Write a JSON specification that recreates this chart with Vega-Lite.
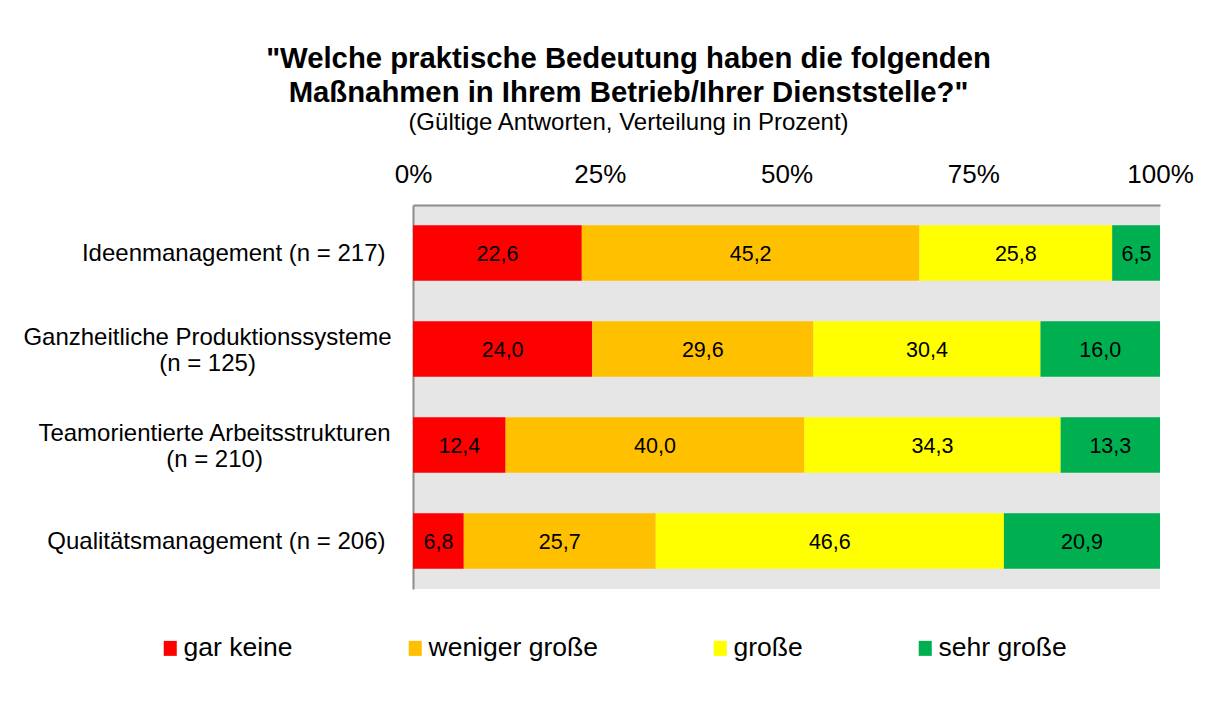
{
  "$schema": "https://vega.github.io/schema/vega-lite/v6.json",
  "width": 747,
  "height": 384,
  "autosize": {"type": "none"},
  "padding": {"left": 413, "top": 205, "right": 55, "bottom": 116},
  "background": "white",
  "config": {
    "font": "Liberation Sans",
    "view": {"fill": "#e6e6e6", "stroke": null},
    "locale": {"number": {"decimal": ",", "thousands": ".", "grouping": [3], "currency": ["", " €"]}}
  },
  "title": {
    "text": ["\"Welche praktische Bedeutung haben die folgenden", "Maßnahmen in Ihrem Betrieb/Ihrer Dienststelle?\""],
    "subtitle": "(Gültige Antworten, Verteilung in Prozent)",
    "font": "Liberation Sans",
    "fontSize": 29.3,
    "fontWeight": "bold",
    "color": "black",
    "lineHeight": 34,
    "subtitleFont": "Liberation Sans",
    "subtitleFontSize": 24,
    "subtitleColor": "black",
    "subtitlePadding": 3,
    "anchor": "middle",
    "frame": "group",
    "dx": -158,
    "offset": 26
  },
  "data": {
    "values": [
      {"Massnahme": "Ideenmanagement (n = 217)", "Bedeutung": "gar keine", "Rang": 1, "Anteil": 22.6},
      {"Massnahme": "Ideenmanagement (n = 217)", "Bedeutung": "weniger große", "Rang": 2, "Anteil": 45.2},
      {"Massnahme": "Ideenmanagement (n = 217)", "Bedeutung": "große", "Rang": 3, "Anteil": 25.8},
      {"Massnahme": "Ideenmanagement (n = 217)", "Bedeutung": "sehr große", "Rang": 4, "Anteil": 6.5},
      {"Massnahme": "Ganzheitliche Produktionssysteme|(n = 125)", "Bedeutung": "gar keine", "Rang": 1, "Anteil": 24.0},
      {"Massnahme": "Ganzheitliche Produktionssysteme|(n = 125)", "Bedeutung": "weniger große", "Rang": 2, "Anteil": 29.6},
      {"Massnahme": "Ganzheitliche Produktionssysteme|(n = 125)", "Bedeutung": "große", "Rang": 3, "Anteil": 30.4},
      {"Massnahme": "Ganzheitliche Produktionssysteme|(n = 125)", "Bedeutung": "sehr große", "Rang": 4, "Anteil": 16.0},
      {"Massnahme": "Teamorientierte Arbeitsstrukturen|(n = 210)", "Bedeutung": "gar keine", "Rang": 1, "Anteil": 12.4},
      {"Massnahme": "Teamorientierte Arbeitsstrukturen|(n = 210)", "Bedeutung": "weniger große", "Rang": 2, "Anteil": 40.0},
      {"Massnahme": "Teamorientierte Arbeitsstrukturen|(n = 210)", "Bedeutung": "große", "Rang": 3, "Anteil": 34.3},
      {"Massnahme": "Teamorientierte Arbeitsstrukturen|(n = 210)", "Bedeutung": "sehr große", "Rang": 4, "Anteil": 13.3},
      {"Massnahme": "Qualitätsmanagement (n = 206)", "Bedeutung": "gar keine", "Rang": 1, "Anteil": 6.8},
      {"Massnahme": "Qualitätsmanagement (n = 206)", "Bedeutung": "weniger große", "Rang": 2, "Anteil": 25.7},
      {"Massnahme": "Qualitätsmanagement (n = 206)", "Bedeutung": "große", "Rang": 3, "Anteil": 46.6},
      {"Massnahme": "Qualitätsmanagement (n = 206)", "Bedeutung": "sehr große", "Rang": 4, "Anteil": 20.9}
    ]
  },
  "encoding": {
    "y": {
      "field": "Massnahme",
      "type": "nominal",
      "sort": null,
      "title": null,
      "scale": {"paddingInner": 0.42, "paddingOuter": 0.21},
      "axis": {
        "domain": true,
        "domainColor": "#8c8c8c",
        "domainWidth": 2,
        "ticks": false,
        "tickSize": 0,
        "grid": false,
        "labelExpr": "split(datum.label, '|')",
        "labelFont": "Liberation Sans",
        "labelFontSize": 24,
        "labelColor": "black",
        "labelLineHeight": 26,
        "labelLimit": 600,
        "labelAlign": {"condition": {"test": "indexof(datum.value, '|') >= 0", "value": "center"}, "value": "right"},
        "labelOffset": {"condition": {"test": "indexof(datum.value, '|') >= 0", "value": -11}, "value": 1},
        "labelPadding": {"condition": [
          {"test": "indexof(datum.value, 'Ganzheitliche') >= 0", "value": 206},
          {"test": "indexof(datum.value, 'Teamorientierte') >= 0", "value": 199}
        ], "value": 28}
      }
    }
  },
  "layer": [
    {
      "mark": {"type": "bar", "clip": true},
      "encoding": {
        "x": {
          "field": "Anteil",
          "type": "quantitative",
          "stack": "zero",
          "title": null,
          "scale": {"domain": [0, 100], "nice": false},
          "axis": {
            "orient": "top",
            "values": [0, 25, 50, 75, 100],
            "labelExpr": "datum.value + '%'",
            "labelFont": "Liberation Sans",
            "labelFontSize": 26,
            "labelColor": "black",
            "labelFlush": false,
            "labelOverlap": false,
            "labelBound": false,
            "labelPadding": 18,
            "ticks": false,
            "tickSize": 0,
            "grid": false,
            "domain": true,
            "domainColor": "#8c8c8c",
            "domainWidth": 2
          }
        },
        "order": {"field": "Rang", "type": "quantitative"},
        "color": {
          "field": "Bedeutung",
          "type": "nominal",
          "scale": {
            "domain": ["gar keine", "weniger große", "große", "sehr große"],
            "range": ["#ff0000", "#ffc000", "#ffff00", "#00b050"]
          },
          "legend": {
            "title": null,
            "orient": "none",
            "legendX": -256,
            "legendY": 430,
            "direction": "horizontal",
            "columns": 4,
            "columnPadding": 109,
            "symbolType": "M-0.87,-1H0.87V1H-0.87Z",
            "symbolSize": 225,
            "symbolStrokeWidth": 0,
            "symbolOpacity": 1,
            "labelFont": "Liberation Sans",
            "labelFontSize": 26.5,
            "labelColor": "black",
            "labelOffset": 0,
            "labelLimit": 400
          }
        }
      }
    },
    {
      "transform": [
        {"stack": "Anteil", "groupby": ["Massnahme"], "sort": [{"field": "Rang", "order": "ascending"}], "as": ["a0", "a1"]},
        {"calculate": "(datum.a0 + datum.a1) / 2", "as": "Mitte"}
      ],
      "mark": {"type": "text", "font": "Liberation Sans", "fontSize": 21.5, "color": "black", "align": "center", "baseline": "middle", "dy": 1.5},
      "encoding": {
        "x": {"field": "Mitte", "type": "quantitative", "title": null},
        "text": {"field": "Anteil", "type": "quantitative", "format": ".1f"}
      }
    }
  ]
}
